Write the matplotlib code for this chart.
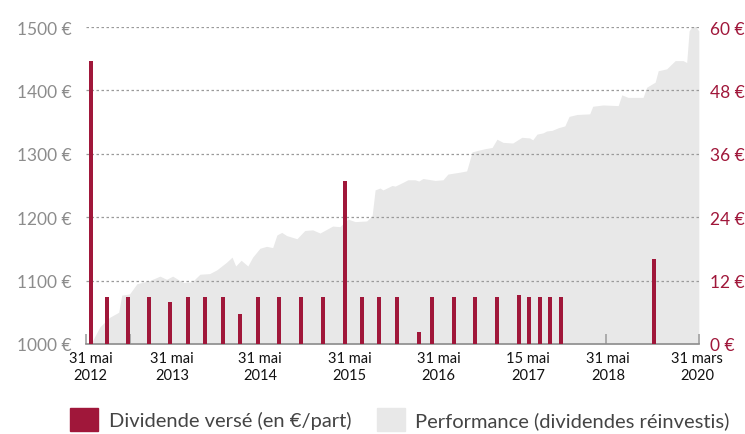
import matplotlib.pyplot as plt
from matplotlib.patches import Patch

plt.rcParams['font.family'] = ['Lato', 'DejaVu Sans']

# period index (0 = 31 mai 2012, 100 = 31 mars 2020)
tick_pos = [0, 13.4, 27.9, 42.7, 57.4, 72.1, 85.3, 100]
tick_labels = ["31 mai\n2012", "31 mai\n2013", "31 mai\n2014", "31 mai\n2015",
               "31 mai\n2016", "15 mai\n2017", "31 mai\n2018", "31 mars\n2020"]

# performance (dividendes réinvestis), base 1000 €
perf_t = [0, 1.5, 3.1, 4.6, 5.1, 6.4, 7.6, 9.7, 11.4, 12.5, 13.5, 15.2, 16.7, 18.0,
          19.6, 20.8, 22.4, 23.3, 23.9, 24.8, 25.9, 26.7, 27.9, 29.0, 30.0, 30.7,
          31.5, 32.3, 34.0, 35.3, 36.6, 37.8, 39.9, 41.1, 42.4, 43.6, 45.5, 46.4,
          46.9, 47.7, 48.2, 49.7, 50.2, 51.5, 52.3, 53.5, 54.1, 54.8, 56.8, 58.1,
          58.9, 60.9, 62.0, 62.9, 63.7, 65.0, 66.2, 67.0, 68.0, 69.6, 71.1, 72.4,
          72.9, 73.6, 74.6, 75.2, 76.1, 77.1, 78.2, 78.9, 80.2, 82.3, 82.8, 84.5,
          87.0, 87.6, 88.6, 91.1, 91.7, 93.1, 93.6, 95.0, 96.4, 97.7, 98.3, 98.7,
          99.3, 99.7, 100.3]
perf_val = [1000, 1027, 1042, 1050, 1077, 1079, 1095, 1100, 1107, 1102, 1107, 1097,
            1098, 1110, 1111, 1117, 1129, 1137, 1123, 1132, 1123, 1137, 1151, 1154,
            1152, 1172, 1176, 1171, 1166, 1179, 1180, 1175, 1186, 1185, 1197, 1193,
            1194, 1202, 1243, 1246, 1243, 1250, 1249, 1255, 1259, 1259, 1257, 1261,
            1258, 1259, 1268, 1271, 1273, 1303, 1305, 1308, 1310, 1323, 1318, 1317,
            1326, 1325, 1322, 1331, 1333, 1336, 1337, 1341, 1344, 1359, 1362, 1363,
            1375, 1377, 1376, 1393, 1389, 1389, 1405, 1413, 1431, 1434, 1447, 1447,
            1444, 1494, 1502, 1501, 1494]

# dividende versé (€/part)
div_t = [0, 2.6, 6.1, 9.6, 13.0, 16.0, 18.8, 21.8, 24.6, 27.6, 31.0, 34.7, 38.3,
         41.9, 44.7, 47.5, 50.5, 54.1, 56.3, 59.9, 63.4, 67.0, 70.6, 72.3, 74.1,
         75.7, 77.6, 92.9]
div_val = [53.6, 8.9, 8.9, 8.9, 8.0, 8.9, 8.9, 8.9, 5.7, 8.9, 8.9, 8.9, 8.9,
           30.9, 8.9, 8.9, 8.9, 2.3, 8.9, 8.9, 8.9, 8.9, 9.3, 8.9, 8.9, 8.9, 8.9,
           16.1]

RED = '#a0173a'
AREA = '#e8e8e8'
GREY_TXT = '#8c8c8c'

fig = plt.figure(figsize=(7.45, 4.35), dpi=100)
ax = fig.add_axes([0.1154, 0.207, 0.8226, 0.7286])
ax2 = ax.twinx()

ax.fill_between(perf_t, 1000, perf_val, color=AREA, lw=0, zorder=0.5)
ax.set_xlim(-0.8, 100.3)
ax.set_ylim(1000, 1500)
ax.set_yticks([1000, 1100, 1200, 1300, 1400, 1500])
ax.set_yticklabels([f"{v} €" for v in range(1000, 1501, 100)])
for y in range(1100, 1501, 100):
    ax.axhline(y, color='#9a9a9a', lw=0.9, ls=(0, (2, 2)), zorder=1)

ax2.bar(div_t, div_val, width=0.66, color=RED, zorder=3)
ax2.set_ylim(0, 60)
ax2.set_yticks(range(0, 61, 12))
ax2.set_yticklabels([f"{v} €" for v in range(0, 61, 12)])

for a in (ax, ax2):
    for s in ('top', 'left', 'right'):
        a.spines[s].set_visible(False)
ax.spines['bottom'].set_color('#8c8c8c')
ax.spines['bottom'].set_linewidth(1.2)
ax2.spines['bottom'].set_visible(False)

ax.tick_params(axis='y', length=0, labelsize=12.5, labelcolor=GREY_TXT, pad=10)
ax2.tick_params(axis='y', length=0, labelsize=12.5, labelcolor=RED, pad=8)

ax.set_xticks([-0.8, 6.4, 85.0, 100.3], minor=True)
ax.tick_params(axis='x', which='minor', direction='in', length=7, width=1.2,
               color='#a0a0a0')
ax.set_xticks(tick_pos)
ax.set_xticklabels(tick_labels, linespacing=1.25)
ax.tick_params(axis='x', which='major', length=0, labelsize=10.5, labelcolor='#111111',
               pad=5)

handles = [Patch(color=RED, label="Dividende versé (en €/part)"),
           Patch(color=AREA, label="Performance (dividendes réinvestis)")]
fig.legend(handles=handles, loc='lower left', bbox_to_anchor=(0.07, -0.035), ncol=2,
           frameon=False, fontsize=14.5, handlelength=1.4, handleheight=1.4,
           handletextpad=0.5, columnspacing=1.3, labelcolor='#444444')

fig.savefig('out.png', dpi=100)
